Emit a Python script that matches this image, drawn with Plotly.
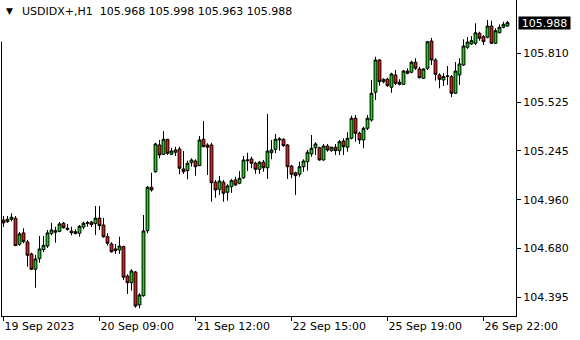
import plotly.graph_objects as go

# ---------------- data ----------------
symbol = "USDIDX+,H1"
bars = list(range(127))

open_ = [104.843, 104.833, 104.847, 104.853, 104.702, 104.768, 104.715, 104.646, 104.557, 104.619,
         104.671, 104.692, 104.764, 104.772, 104.777, 104.824, 104.795, 104.779, 104.775, 104.766,
         104.802, 104.822, 104.831, 104.822, 104.854, 104.814, 104.746, 104.704, 104.675, 104.669,
         104.688, 104.518, 104.479, 104.541, 104.350, 104.404, 104.781, 105.033, 105.123, 105.278,
         105.224, 105.311, 105.224, 105.236, 105.255, 105.139, 105.129, 105.175, 105.185, 105.158,
         105.311, 105.278, 105.278, 105.062, 105.021, 105.062, 105.004, 105.036, 105.075, 105.056,
         105.088, 105.187, 105.197, 105.172, 105.137, 105.178, 105.146, 105.233, 105.253, 105.307,
         105.311, 105.278, 105.156, 105.117, 105.108, 105.152, 105.181, 105.226, 105.262, 105.262,
         105.191, 105.272, 105.245, 105.265, 105.245, 105.301, 105.265, 105.317, 105.433, 105.346,
         105.307, 105.375, 105.423, 105.584, 105.771, 105.645, 105.659, 105.613, 105.684, 105.643,
         105.630, 105.707, 105.700, 105.758, 105.719, 105.665, 105.723, 105.881, 105.771, 105.684,
         105.655, 105.676, 105.674, 105.578, 105.684, 105.742, 105.845, 105.864, 105.868, 105.926,
         105.906, 105.903, 105.968, 105.868, 105.929, 105.961, 105.968]

high = [104.866, 104.866, 104.882, 104.866, 104.773, 104.795, 104.727, 104.653, 104.640, 104.750,
        104.750, 104.785, 104.827, 104.804, 104.831, 104.831, 104.820, 104.804, 104.789, 104.814,
        104.833, 104.837, 104.837, 104.924, 104.924, 104.855, 104.766, 104.714, 104.704, 104.746,
        104.694, 104.528, 104.557, 104.547, 104.418, 104.872, 105.040, 105.117, 105.291, 105.307,
        105.359, 105.313, 105.262, 105.268, 105.268, 105.243, 105.187, 105.201, 105.195, 105.330,
        105.417, 105.288, 105.291, 105.075, 105.098, 105.075, 105.050, 105.081, 105.094, 105.127,
        105.214, 105.233, 105.210, 105.181, 105.185, 105.191, 105.458, 105.307, 105.342, 105.323,
        105.317, 105.284, 105.162, 105.123, 105.181, 105.195, 105.249, 105.336, 105.294, 105.268,
        105.284, 105.284, 105.268, 105.284, 105.307, 105.317, 105.352, 105.448, 105.452, 105.355,
        105.384, 105.452, 105.655, 105.790, 105.777, 105.665, 105.668, 105.697, 105.713, 105.659,
        105.713, 105.723, 105.767, 105.781, 105.732, 105.723, 105.881, 105.899, 105.781, 105.694,
        105.694, 105.736, 105.684, 105.759, 105.781, 105.891, 105.904, 105.910, 105.984, 105.935,
        105.916, 106.003, 105.999, 105.955, 105.978, 105.993, 105.998]

low = [104.802, 104.826, 104.835, 104.692, 104.694, 104.708, 104.572, 104.553, 104.450, 104.595,
       104.657, 104.681, 104.754, 104.711, 104.772, 104.793, 104.781, 104.754, 104.760, 104.746,
       104.789, 104.804, 104.802, 104.756, 104.785, 104.739, 104.694, 104.653, 104.646, 104.646,
       104.495, 104.414, 104.433, 104.334, 104.331, 104.398, 104.766, 105.007, 105.117, 105.201,
       105.220, 105.220, 105.220, 105.214, 105.108, 105.110, 105.079, 105.152, 105.100, 105.156,
       105.266, 105.104, 104.949, 104.972, 104.988, 104.949, 104.955, 105.001, 105.040, 105.050,
       105.081, 105.127, 105.143, 105.110, 105.110, 105.123, 105.081, 105.195, 105.230, 105.245,
       105.268, 105.081, 105.085, 104.988, 105.094, 105.123, 105.129, 105.210, 105.220, 105.187,
       105.187, 105.239, 105.239, 105.220, 105.220, 105.220, 105.239, 105.311, 105.297, 105.284,
       105.259, 105.365, 105.413, 105.539, 105.622, 105.636, 105.616, 105.581, 105.626, 105.624,
       105.626, 105.688, 105.694, 105.713, 105.665, 105.661, 105.713, 105.742, 105.651, 105.607,
       105.620, 105.626, 105.555, 105.574, 105.626, 105.736, 105.835, 105.858, 105.858, 105.883,
       105.858, 105.897, 105.864, 105.864, 105.926, 105.955, 105.963]

close = [104.826, 104.847, 104.859, 104.694, 104.762, 104.717, 104.638, 104.557, 104.617, 104.675,
         104.696, 104.768, 104.785, 104.781, 104.820, 104.798, 104.789, 104.769, 104.764, 104.806,
         104.824, 104.827, 104.816, 104.854, 104.810, 104.746, 104.708, 104.659, 104.665, 104.692,
         104.511, 104.479, 104.547, 104.344, 104.408, 104.779, 105.033, 105.017, 105.284, 105.220,
         105.311, 105.230, 105.243, 105.249, 105.143, 105.123, 105.172, 105.191, 105.152, 105.307,
         105.268, 105.265, 105.059, 105.017, 105.069, 104.998, 105.040, 105.071, 105.046, 105.085,
         105.191, 105.191, 105.172, 105.137, 105.178, 105.146, 105.243, 105.249, 105.311, 105.313,
         105.274, 105.152, 105.108, 105.100, 105.152, 105.185, 105.236, 105.259, 105.284, 105.191,
         105.272, 105.249, 105.265, 105.245, 105.297, 105.268, 105.317, 105.433, 105.346, 105.307,
         105.375, 105.433, 105.578, 105.771, 105.645, 105.659, 105.622, 105.690, 105.636, 105.630,
         105.707, 105.694, 105.758, 105.723, 105.668, 105.719, 105.877, 105.771, 105.688, 105.659,
         105.675, 105.678, 105.578, 105.707, 105.748, 105.852, 105.875, 105.883, 105.929, 105.897,
         105.877, 105.968, 105.868, 105.941, 105.961, 105.978, 105.988]

time_tick_bars = [0, 24, 48, 72, 96, 120]
time_tick_text = ["19 Sep 2023", "20 Sep 09:00", "21 Sep 12:00",
                  "22 Sep 15:00", "25 Sep 19:00", "26 Sep 22:00"]
price_ticks = [104.395, 104.680, 104.960, 105.245, 105.525, 105.810]

FONT = "DejaVu Sans"

fig = go.Figure(go.Candlestick(
    x=bars, open=open_, high=high, low=low, close=close,
    increasing=dict(line=dict(color="black", width=1), fillcolor="#00E600"),
    decreasing=dict(line=dict(color="black", width=1), fillcolor="#FF0F0F"),
    whiskerwidth=0, showlegend=False, hoverinfo="skip",
))

last = bars[-1]
header = (f"{symbol}\u00a0\u00a0{open_[last]:.3f} {high[last]:.3f} "
          f"{low[last]:.3f} {close[last]:.3f}")

fig.update_layout(
    width=580, height=340,
    margin=dict(l=2, r=64, t=0, b=24),
    paper_bgcolor="white", plot_bgcolor="white",
    boxgap=0.3, boxgroupgap=0,
    font=dict(family=FONT, size=11, color="black"),
    xaxis=dict(
        range=[-0.375, 128.125], rangeslider=dict(visible=False),
        showgrid=False, zeroline=False,
        showline=True, mirror=True, linecolor="black", linewidth=1,
        ticks="outside", ticklen=4, tickcolor="black", tickwidth=1,
        tickvals=time_tick_bars, ticktext=time_tick_text,
        ticklabelposition="outside right",
        tickfont=dict(family=FONT, size=11, color="black"),
        fixedrange=True,
    ),
    yaxis=dict(
        side="right", range=[104.286, 106.119],
        showgrid=False, zeroline=False,
        showline=True, mirror=True, linecolor="black", linewidth=1,
        ticks="outside", ticklen=4, tickcolor="black", tickwidth=1,
        tickvals=price_ticks, ticktext=[f"{v:.3f}" for v in price_ticks],
        tickfont=dict(family=FONT, size=11, color="black"),
        fixedrange=True,
    ),
    shapes=[dict(type="rect", xref="paper", yref="paper",
                 x0=-0.01, x1=0.002, y0=0.868, y1=1.01,
                 fillcolor="white", line=dict(width=0), layer="above")],
    annotations=[
        dict(xref="paper", yref="paper", x=0, y=1, xanchor="left", yanchor="top",
             xshift=2, yshift=-4, showarrow=False, text="\u25BC",
             font=dict(family=FONT, size=9, color="black")),
        dict(xref="paper", yref="paper", x=0, y=1, xanchor="left", yanchor="top",
             xshift=18, yshift=-3, showarrow=False, text=header,
             font=dict(family=FONT, size=11, color="black")),
        dict(xref="paper", yref="y", x=1, y=close[last], xanchor="left", yanchor="middle",
             xshift=2, showarrow=False, text=f"{close[last]:.3f}",
             bgcolor="black", borderpad=0, width=51, height=12,
             font=dict(family=FONT, size=11, color="white")),
    ],
)

fig.write_html("out.html")
